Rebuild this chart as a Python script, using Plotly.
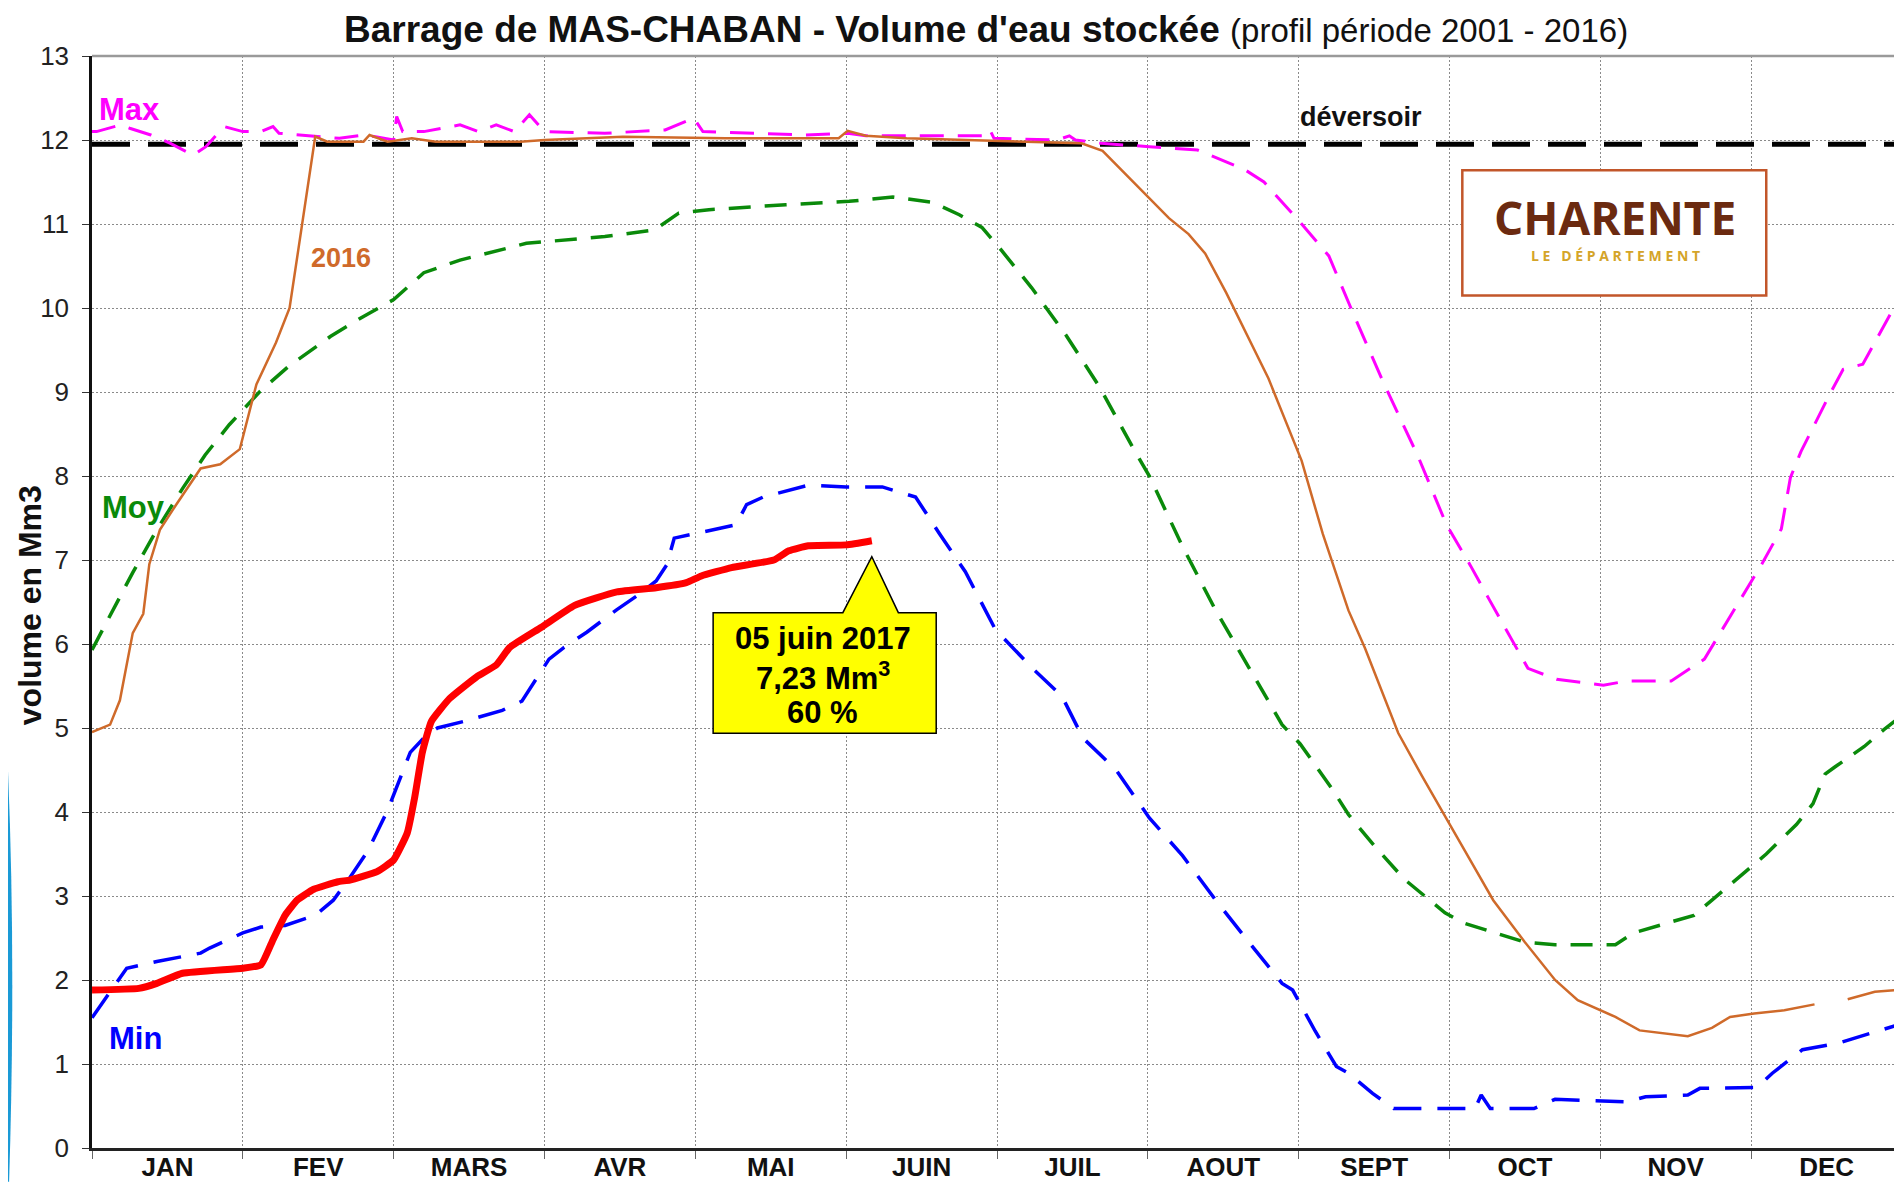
import plotly.graph_objects as go

# ---------------- data (x in month units: 0 = 1 Jan, 12 = 31 Dec) ----------------
months = ["JAN", "FEV", "MARS", "AVR", "MAI", "JUIN", "JUIL", "AOUT", "SEPT", "OCT", "NOV", "DEC"]

max_x = [0, 0.03, 0.19, 0.25, 0.39, 0.52, 0.67, 0.755, 0.875, 1.0, 1.12, 1.2, 1.24, 1.48, 1.64, 1.8,
         1.88, 2.0, 2.02, 2.06, 2.2, 2.44, 2.56, 2.68, 2.8, 2.9, 3.0, 3.4, 3.8, 3.99, 4.05, 4.4, 4.73,
         5.01, 5.13, 5.5, 5.9, 5.95, 5.98, 6.4, 6.48, 6.52, 6.69, 7.01, 7.33, 7.64, 7.77, 7.85, 8.02,
         8.2, 8.37, 8.56, 8.79, 8.98, 9.14, 9.26, 9.52, 9.71, 10.02, 10.18, 10.47, 10.69, 10.88, 11.07,
         11.2, 11.26, 11.33, 11.52, 11.61, 11.74, 11.96, 12.0]
max_y = [12.1, 12.1, 12.18, 12.14, 12.06, 11.96, 11.82, 11.92, 12.16, 12.1, 12.1, 12.16, 12.08, 12.04,
         12.02, 12.06, 12.04, 12.0, 12.28, 12.1, 12.1, 12.18, 12.1, 12.18, 12.1, 12.3, 12.1, 12.08, 12.12,
         12.26, 12.1, 12.08, 12.06, 12.08, 12.05, 12.05, 12.05, 12.13, 12.02, 12.0, 12.05, 12.0, 11.96,
         11.92, 11.88, 11.65, 11.5, 11.34, 11.0, 10.62, 9.9, 9.12, 8.24, 7.42, 6.93, 6.54, 5.71, 5.58,
         5.51, 5.56, 5.56, 5.82, 6.39, 6.95, 7.37, 7.98, 8.29, 8.97, 9.27, 9.33, 10.05, 10.15]

moy_x = [0, 0.15, 0.27, 0.43, 0.6, 0.75, 0.91, 1.11, 1.3, 1.58, 1.8, 2.0, 2.2, 2.44, 2.88, 3.4, 3.73,
         3.89, 4.09, 4.6, 5.02, 5.31, 5.57, 5.75, 5.9, 6.01, 6.23, 6.46, 6.68, 6.9, 7.01, 7.23, 7.45,
         7.67, 7.89, 8.01, 8.22, 8.33, 8.5, 8.7, 8.97, 9.09, 9.5, 9.7, 10.1, 10.22, 10.62, 10.74, 10.9,
         11.1, 11.3, 11.41, 11.49, 11.55, 11.75, 11.88, 12.0]
moy_y = [5.93, 6.45, 6.85, 7.36, 7.85, 8.25, 8.61, 9.0, 9.3, 9.66, 9.9, 10.1, 10.42, 10.57, 10.77, 10.85,
         10.93, 11.13, 11.17, 11.23, 11.27, 11.32, 11.26, 11.11, 10.96, 10.73, 10.24, 9.67, 9.06, 8.34,
         8.0, 7.16, 6.4, 5.72, 5.04, 4.81, 4.28, 3.97, 3.6, 3.2, 2.8, 2.68, 2.45, 2.42, 2.42, 2.56, 2.77,
         2.95, 3.2, 3.5, 3.85, 4.1, 4.45, 4.53, 4.78, 4.98, 5.15]

min_x = [0, 0.23, 0.43, 0.72, 0.78, 1.0, 1.12, 1.28, 1.48, 1.6, 1.71, 1.83, 1.96, 2.04, 2.11, 2.22,
         2.29, 2.47, 2.72, 2.85, 2.95, 3.03, 3.13, 3.28, 3.48, 3.61, 3.74, 3.81, 3.86, 3.99, 4.27, 4.34,
         4.45, 4.75, 5.0, 5.24, 5.46, 5.62, 5.79, 5.99, 6.23, 6.43, 6.57, 6.79, 7.01, 7.23, 7.45, 7.67,
         7.89, 7.96, 8.11, 8.25, 8.33, 8.49, 8.63, 9.17, 9.21, 9.27, 9.56, 9.7, 10.18, 10.3, 10.58,
         10.66, 11.04, 11.14, 11.34, 11.58, 12.0]
min_y = [1.55, 2.14, 2.22, 2.32, 2.38, 2.56, 2.63, 2.65, 2.77, 2.95, 3.22, 3.54, 4.02, 4.39, 4.71, 4.92,
         5.0, 5.08, 5.21, 5.32, 5.59, 5.82, 5.96, 6.14, 6.41, 6.57, 6.75, 6.94, 7.26, 7.31, 7.42, 7.66,
         7.75, 7.89, 7.87, 7.87, 7.75, 7.31, 6.86, 6.17, 5.72, 5.38, 4.88, 4.5, 3.93, 3.48, 2.95, 2.45,
         1.96, 1.88, 1.39, 0.97, 0.89, 0.65, 0.47, 0.47, 0.63, 0.47, 0.47, 0.58, 0.55, 0.61, 0.63, 0.71,
         0.72, 0.89, 1.17, 1.25, 1.48]

y2016_x = [0, 0.12, 0.185, 0.27, 0.34, 0.38, 0.45, 0.54, 0.72, 0.85, 0.98, 1.09, 1.22, 1.31, 1.48, 1.56,
           1.8, 1.84, 1.96, 2.12, 2.28, 2.84, 3.0, 3.52, 4.2, 4.95, 5.01, 5.13, 5.4, 6.56, 6.7, 7.01, 7.14,
           7.27, 7.38, 7.52, 7.8, 8.02, 8.16, 8.33, 8.44, 8.66, 8.82, 9.05, 9.29, 9.5, 9.7, 9.85, 10.1,
           10.26, 10.5, 10.58, 10.74, 10.86, 11.02, 11.22, 11.42, None, 11.64, 11.82, 11.97]
y2016_y = [4.95, 5.04, 5.33, 6.13, 6.36, 6.95, 7.36, 7.61, 8.09, 8.14, 8.32, 9.09, 9.59, 10.0, 12.04,
           11.98, 11.98, 12.06, 11.98, 12.02, 11.98, 11.98, 12.0, 12.04, 12.02, 12.02, 12.11, 12.05, 12.02,
           11.96, 11.87, 11.3, 11.07, 10.88, 10.65, 10.18, 9.16, 8.18, 7.31, 6.4, 5.95, 4.94, 4.42, 3.7,
           2.95, 2.45, 2.0, 1.76, 1.56, 1.4, 1.35, 1.33, 1.43, 1.56, 1.6, 1.64, 1.71, None, 1.77, 1.86, 1.88]

y2017_x = [0, 0.31, 0.43, 0.6, 1.0, 1.12, 1.2, 1.28, 1.36, 1.47, 1.63, 1.71, 1.89, 2.0, 2.09, 2.14, 2.19,
           2.25, 2.37, 2.55, 2.68, 2.77, 2.98, 3.2, 3.48, 3.74, 3.94, 4.04, 4.24, 4.52, 4.62, 4.75, 5.0, 5.17]
y2017_y = [1.88, 1.9, 1.96, 2.08, 2.14, 2.18, 2.48, 2.77, 2.95, 3.08, 3.17, 3.19, 3.29, 3.43, 3.75, 4.18,
           4.71, 5.08, 5.35, 5.61, 5.75, 5.96, 6.2, 6.46, 6.62, 6.67, 6.73, 6.81, 6.91, 7.0, 7.11, 7.17,
           7.18, 7.23]

deversoir = 11.95
callout_lines = ["05 juin 2017", "7,23 Mm<sup>3</sup>", "60 %"]

FONT = "Liberation Sans, Arial, sans-serif"
MAGENTA, GREEN, BLUE, ORANGE, RED = "#FF00FF", "#0A8A0A", "#0000FF", "#CF6A2A", "#FF0000"

fig = go.Figure()
fig.add_trace(go.Scatter(x=[0, 12], y=[deversoir, deversoir], mode="lines",
                         line=dict(color="#000000", width=5, dash="38px,18px"), hoverinfo="skip"))
fig.add_trace(go.Scatter(x=max_x, y=max_y, mode="lines", name="Max",
                         line=dict(color=MAGENTA, width=3, dash="24px,14px")))
fig.add_trace(go.Scatter(x=moy_x, y=moy_y, mode="lines", name="Moy",
                         line=dict(color=GREEN, width=3.5, dash="22px,14px")))
fig.add_trace(go.Scatter(x=min_x, y=min_y, mode="lines", name="Min",
                         line=dict(color=BLUE, width=3.5, dash="28px,16px")))
fig.add_trace(go.Scatter(x=y2016_x, y=y2016_y, mode="lines", name="2016",
                         line=dict(color=ORANGE, width=2.5)))
fig.add_trace(go.Scatter(x=y2017_x, y=y2017_y, mode="lines", name="2017",
                         line=dict(color=RED, width=7, shape="spline", smoothing=0.4)))

# callout box with pointer toward the last 2017 point
ax, ay = y2017_x[-1], y2017_y[-1] - 0.19
bx0, bx1, by0, by1 = 4.118, 5.597, 4.937, 6.373
path = (f"M {bx0},{by1} L 4.978,{by1} L {ax},{ay} L 5.346,{by1} L {bx1},{by1} "
        f"L {bx1},{by0} L {bx0},{by0} Z")
shapes = [
    dict(type="path", path=path, xref="x", yref="y", fillcolor="#FFFF00",
         line=dict(color="#000000", width=1.5), layer="above"),
    dict(type="rect", x0=9.085, x1=11.1, y0=10.15, y1=11.64, xref="x", yref="y",
         fillcolor="#FFFFFF", line=dict(color="#C2562A", width=2.5), layer="above"),
    dict(type="line", x0=0, x1=1, y0=1, y1=1, xref="paper", yref="paper",
         line=dict(color="#9A9A9A", width=2.5)),
    dict(type="path", path="M -0.0464,0.345 Q -0.0420,0.17 -0.0458,-0.031 L -0.0464,-0.031 Z",
         xref="paper", yref="paper", fillcolor="#1A9AD6", line=dict(width=0)),
]

annotations = [
    dict(text="<b>Barrage de MAS-CHABAN - Volume d'eau stockée</b> "
              "<span style='font-size:33px'>(profil période 2001 - 2016)</span>",
         xref="paper", yref="paper", x=0.494, y=1, yanchor="middle", xanchor="center", yshift=27,
         showarrow=False, font=dict(family=FONT, size=37, color="#111111")),
    dict(text="<b>volume en Mm3</b>", xref="paper", yref="paper", x=-0.0343, y=0.497,
         textangle=-90, showarrow=False, xanchor="center", yanchor="middle",
         font=dict(family=FONT, size=32, color="#111111")),
    dict(text="<b>Max</b>", x=0.03, y=12.36, xanchor="left", yanchor="middle", showarrow=False,
         font=dict(family=FONT, size=31, color=MAGENTA)),
    dict(text="<b>Moy</b>", x=0.05, y=7.62, xanchor="left", yanchor="middle", showarrow=False,
         font=dict(family=FONT, size=31, color=GREEN)),
    dict(text="<b>Min</b>", x=0.10, y=1.30, xanchor="left", yanchor="middle", showarrow=False,
         font=dict(family=FONT, size=31, color=BLUE)),
    dict(text="<b>2016</b>", x=1.44, y=10.6, xanchor="left", yanchor="middle", showarrow=False,
         font=dict(family=FONT, size=27, color=ORANGE)),
    dict(text="<b>déversoir</b>", x=8.414, y=12.27, xanchor="center", yanchor="middle", showarrow=False,
         font=dict(family=FONT, size=27, color="#111111")),
    dict(text="<b>CHARENTE</b>", x=10.1, y=11.08, xanchor="center", yanchor="middle", showarrow=False,
         font=dict(family="Open Sans, sans-serif", size=46, color="#6B2A10")),
    dict(text="<b>L E   D É P A R T E M E N T</b>", x=10.1, y=10.62, xanchor="center", yanchor="middle",
         showarrow=False, font=dict(family="Open Sans, sans-serif", size=14, color="#D4A429")),
]
for line, yv in zip(callout_lines, [6.07, 5.62, 5.18]):
    annotations.append(dict(text=f"<b>{line}</b>", x=4.845, y=yv, xanchor="center", yanchor="middle",
                            showarrow=False, font=dict(family=FONT, size=31, color="#000000")))

# page body has an 8px default margin: size the figure so it ends at the window edge
fig.update_layout(
    width=1894, height=1174,
    margin=dict(l=84, r=0, t=48, b=34),
    paper_bgcolor="#FFFFFF", plot_bgcolor="#FFFFFF",
    showlegend=False,
    shapes=shapes, annotations=annotations,
    font=dict(family=FONT),
)
fig.update_xaxes(
    range=[0, 12], tickvals=[i + 0.5 for i in range(12)], ticktext=[f"<b>{m}</b>" for m in months],
    showgrid=False, ticks="", zeroline=False, automargin=False, ticklabelstandoff=-6,
    tickfont=dict(family=FONT, size=26, color="#111111"),
    showline=True, linecolor="#222222", linewidth=3,
    minor=dict(tickvals=list(range(13)), ticks="outside", ticklen=8, tickcolor="#666666",
               showgrid=True, gridcolor="#8A8A8A", gridwidth=1, griddash="2px,2px"),
)
fig.update_yaxes(
    range=[0, 13], dtick=1, tick0=0, showgrid=True, gridcolor="#8A8A8A", gridwidth=1,
    griddash="2px,2px", zeroline=False, ticks="outside", ticklen=7, tickcolor="#333333",
    automargin=False,
    tickfont=dict(family=FONT, size=26, color="#222222"),
    showline=True, linecolor="#111111", linewidth=2.5, ticklabelstandoff=8,
)

fig.write_html("out.html")
